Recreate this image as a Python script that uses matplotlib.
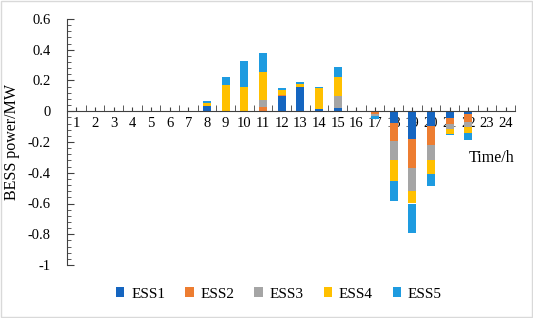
import numpy as np
import matplotlib
matplotlib.use("Agg")
import matplotlib.pyplot as plt
from matplotlib.ticker import MultipleLocator, FuncFormatter, FixedLocator
from matplotlib.patches import Rectangle

# hourly BESS power per storage unit (MW)
hours = list(range(1, 25))
ESS1 = [0]*7 + [0.035, 0, 0, 0, 0.10, 0.155, 0.015, 0.02, 0, 0, -0.077, -0.18, -0.096, -0.045, -0.02, 0, 0]
ESS2 = [0]*7 + [0, 0, 0, 0.03, 0.005, 0, 0, 0, 0, -0.02, -0.116, -0.187, -0.124, -0.04, -0.05, 0, 0]
ESS3 = [0]*7 + [0, 0, 0, 0.045, 0, 0, 0, 0.08, 0, -0.012, -0.124, -0.153, -0.094, -0.03, -0.03, 0, 0]
ESS4 = [0]*7 + [0.02, 0.17, 0.16, 0.18, 0.035, 0.025, 0.135, 0.125, 0, 0, -0.135, -0.08, -0.094, -0.03, -0.04, 0, 0]
ESS5 = [0]*7 + [0.01, 0.05, 0.17, 0.125, 0.01, 0.01, 0.008, 0.06, 0, -0.018, -0.133, -0.19, -0.08, -0.01, -0.045, 0, 0]
names = ["ESS1", "ESS2", "ESS3", "ESS4", "ESS5"]
colors = ["#1565C0", "#ED7D31", "#A5A5A5", "#FFC000", "#1E9BE0"]

plt.rcParams['font.family'] = ['Liberation Serif', 'DejaVu Serif']

fig = plt.figure(figsize=(5.33, 3.18), dpi=100)
ax = fig.add_axes([67/533, 1-265/318, (515-67)/533, (265-19)/318])

x = np.array(hours)
pos = np.zeros(24)
neg = np.zeros(24)
for name, vals, c in zip(names, [ESS1, ESS2, ESS3, ESS4, ESS5], colors):
    v = np.array(vals, dtype=float)
    bottom = np.where(v >= 0, pos, neg)
    ax.bar(x, v, 0.43, bottom=bottom, color=c, label=name, zorder=2)
    pos += np.where(v > 0, v, 0)
    neg += np.where(v < 0, v, 0)

ax.set_xlim(0.5, 24.5)
ax.set_ylim(-1, 0.6)
for s in ["top", "right"]:
    ax.spines[s].set_visible(False)
ax.spines["bottom"].set_position(("data", 0))
ax.spines["bottom"].set_color("#404040")
ax.spines["left"].set_color("#404040")

ax.set_xticks(x)
ax.set_xticklabels([str(h) for h in hours], fontsize=10.5)
ax.xaxis.set_minor_locator(FixedLocator(np.arange(0.5, 25, 1)))
ax.tick_params(axis="x", which="major", direction="in", length=3, pad=4, color="#404040")
ax.tick_params(axis="x", which="minor", direction="in", length=4, color="#404040")

ax.yaxis.set_major_locator(MultipleLocator(0.2))
ax.yaxis.set_minor_locator(MultipleLocator(0.04))
ax.yaxis.set_major_formatter(FuncFormatter(lambda v, p: f"{round(v, 2):g}"))
ax.tick_params(axis="y", which="major", direction="in", length=5, labelsize=10.5, pad=12, color="#404040")
ax.tick_params(axis="y", which="minor", direction="in", length=3, color="#404040")

ax.set_ylabel("BESS power/MW", fontsize=11.5, labelpad=5)
ax.text(492/533, 1-158/318, "Time/h", transform=fig.transFigure, ha="center", va="center", fontsize=11.5)

fig.legend(loc="center", bbox_to_anchor=(279/533, 1-294/318), ncol=5, frameon=False,
           fontsize=11, handlelength=0.55, handleheight=0.55, handletextpad=0.45, columnspacing=1.3)

fig.patches.append(Rectangle((0.002, 0.003), 0.996, 0.994, transform=fig.transFigure,
                             fill=False, edgecolor="#d9d9d9", linewidth=1))

fig.savefig("out.png", dpi=100)
